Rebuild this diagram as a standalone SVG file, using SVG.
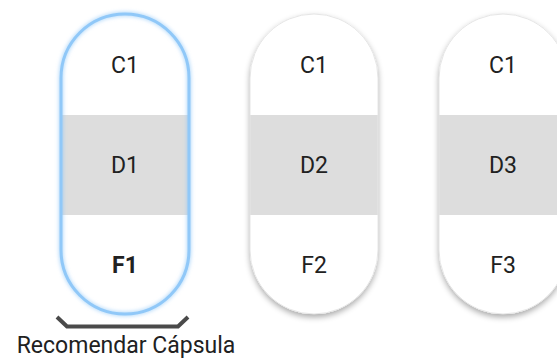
<svg xmlns="http://www.w3.org/2000/svg" width="557" height="358" viewBox="0 0 557 358">
<style>
.lbl{font-family:Roboto,"Liberation Sans",sans-serif;font-size:23px;fill:#212121;text-anchor:middle}
.b{font-weight:bold}
.band{fill:#dddddd}
.body{fill:#ffffff}
</style>
<defs>
<filter id="sh" x="-30%" y="-20%" width="160%" height="140%">
<feGaussianBlur in="SourceAlpha" stdDeviation="3"/>
<feOffset dy="3" result="o"/>
<feComponentTransfer><feFuncA type="linear" slope="0.35"/></feComponentTransfer>
<feMerge><feMergeNode/><feMergeNode in="SourceGraphic"/></feMerge>
</filter>
<filter id="glow" x="-30%" y="-20%" width="160%" height="140%">
<feGaussianBlur in="SourceGraphic" stdDeviation="2"/>
<feMerge><feMergeNode/><feMergeNode in="SourceGraphic"/></feMerge>
</filter>
<clipPath id="c1"><rect x="61" y="14" width="128" height="300" rx="64"/></clipPath>
<clipPath id="c2"><rect x="250" y="14" width="128" height="300" rx="64"/></clipPath>
<clipPath id="c3"><rect x="439" y="14" width="128" height="300" rx="64"/></clipPath>
</defs>
<g id="capsule1">
<rect class="body" x="61" y="14" width="128" height="300" rx="64"/>
<rect class="band" x="61" y="115" width="128" height="100" clip-path="url(#c1)"/>
<rect x="61" y="14" width="128" height="300" rx="64" fill="none" stroke="#90c8f8" stroke-width="3" filter="url(#glow)"/>
<text class="lbl" x="125" y="73">C1</text>
<text class="lbl" x="125" y="173">D1</text>
<text class="lbl b" x="125" y="273">F1</text>
</g>
<g id="capsule2">
<rect class="body" x="250" y="14" width="128" height="300" rx="64" filter="url(#sh)"/>
<rect class="band" x="250" y="115" width="128" height="100" clip-path="url(#c2)"/>
<rect x="250" y="14" width="128" height="300" rx="64" fill="none" stroke="#e6e6e6" stroke-width="1"/>
<text class="lbl" x="314" y="73">C1</text>
<text class="lbl" x="314" y="173">D2</text>
<text class="lbl" x="314" y="273">F2</text>
</g>
<g id="capsule3">
<rect class="body" x="439" y="14" width="128" height="300" rx="64" filter="url(#sh)"/>
<rect class="band" x="439" y="115" width="128" height="100" clip-path="url(#c3)"/>
<rect x="439" y="14" width="128" height="300" rx="64" fill="none" stroke="#e6e6e6" stroke-width="1"/>
<text class="lbl" x="503" y="73">C1</text>
<text class="lbl" x="503" y="173">D3</text>
<text class="lbl" x="503" y="273">F3</text>
</g>
<g id="connectors">
<polyline points="57,317 67,326.5 178,326.5 188,317" fill="none" stroke="#4a4a4a" stroke-width="4"/>
</g>
<g id="caption">
<text class="lbl" x="126" y="353">Recomendar Cápsula</text>
</g>
</svg>
